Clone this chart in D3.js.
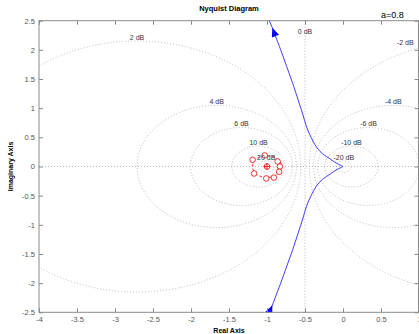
<!DOCTYPE html>
<html>
<head>
<meta charset="utf-8">
<script src="https://cdn.jsdelivr.net/npm/d3@7"></script>
<style>
  body { margin: 0; background: #fff; }
  text { font-family: "Liberation Sans", Arial, sans-serif; }
</style>
</head>
<body>
<div id="chart"></div>
<script>
// values
const xTicks = [-4, -3.5, -3, -2.5, -2, -1.5, -1, -0.5, 0, 0.5, 1];
const yTicks = [-2.5, -2, -1.5, -1, -0.5, 0, 0.5, 1, 1.5, 2, 2.5];
const gridDb = [-20, -10, -6, -4, -2, 2, 4, 6, 10, 20];

// upper branch (from top down to the origin)
const upperRe = [-1.00, -0.97, -0.93, -0.89, -0.82, -0.74, -0.66, -0.59, -0.53, -0.48, -0.42, -0.35, -0.27, -0.17, -0.09, -0.03, 0];
const upperIm = [2.62, 2.50, 2.38, 2.24, 2.00, 1.71, 1.42, 1.14, 0.90, 0.68, 0.50, 0.335, 0.22, 0.13, 0.06, 0.02, 0];
// lower branch (from the origin down)
const lowerRe = [0, -0.03, -0.09, -0.17, -0.27, -0.35, -0.42, -0.48, -0.53, -0.59, -0.66, -0.74, -0.82, -0.89, -0.93, -0.97, -1.00];
const lowerIm = [0, -0.02, -0.06, -0.13, -0.22, -0.335, -0.50, -0.68, -0.90, -1.14, -1.42, -1.71, -2.00, -2.24, -2.38, -2.50, -2.62];
const upperArrowAt = 2;
const lowerArrowAt = 14;

// red ring of markers round -1
const ringRe = [-1.19, -1.03, -0.86, -0.83, -0.84, -0.91, -1.01, -1.17];
const ringIm = [0.115, 0.19, 0.086, 0, -0.09, -0.19, -0.205, -0.12];
const ringCenter = [-1, 0];
const ringRadius = 0.19;

const titleText = "Nyquist Diagram";
const noteText = "a=0.8";
const xLabel = "Real Axis";
const yLabel = "Imaginary Axis";

const W = 419, H = 334;
const mLeft = 39, mRight = 419, mTop = 20.7, mBottom = 312.3;

const x = d3.scaleLinear().domain([-4, 1]).range([mLeft, mRight]);
const y = d3.scaleLinear().domain([-2.5, 2.5]).range([mBottom, mTop]);

const svg = d3.select("#chart").append("svg")
  .attr("width", W).attr("height", H);

svg.append("defs").append("clipPath").attr("id", "plot")
  .append("rect")
  .attr("x", mLeft).attr("y", mTop)
  .attr("width", mRight - mLeft).attr("height", mBottom - mTop);

const plot = svg.append("g").attr("clip-path", "url(#plot)");

// grid: M circles
const gridColor = "#b8b8b8";
const circles = gridDb.map(function(d) {
  const m = Math.pow(10, d / 20);
  const c = -m * m / (m * m - 1);
  const r = Math.abs(m / (m * m - 1));
  return { db: d, c: c, r: r };
});

plot.selectAll(".mcircle")
  .data(circles)
  .enter().append("ellipse")
  .attr("class", "mcircle")
  .attr("cx", d => x(d.c))
  .attr("cy", y(0))
  .attr("rx", d => x(d.c + d.r) - x(d.c))
  .attr("ry", d => y(0) - y(d.r))
  .attr("fill", "none")
  .attr("stroke", gridColor)
  .attr("stroke-width", 1)
  .attr("stroke-dasharray", "1 2");

plot.append("line")
  .attr("x1", mLeft).attr("x2", mRight)
  .attr("y1", y(0)).attr("y2", y(0))
  .attr("stroke", gridColor).attr("stroke-dasharray", "1 2");

plot.append("line")
  .attr("x1", x(-0.5)).attr("x2", x(-0.5))
  .attr("y1", mTop).attr("y2", mBottom)
  .attr("stroke", gridColor).attr("stroke-dasharray", "1 2");

// dB labels at the tops of the circles
const xMax = x.domain()[1];
const labels = circles.map(function(d) {
  let lx = d.c, ly = d.r;
  if (d.c > xMax - 0.15) {
    lx = xMax - 0.18;
    ly = Math.sqrt(d.r * d.r - (lx - d.c) * (lx - d.c)) + 0.1;
  }
  return { text: d.db + " dB", x: lx, y: ly };
});
labels.push({ text: "0 dB", x: -0.5, y: 2.25 });

svg.selectAll(".dblabel")
  .data(labels)
  .enter().append("text")
  .attr("class", "dblabel")
  .attr("x", d => x(d.x))
  .attr("y", d => y(d.y) - 1)
  .attr("text-anchor", "middle")
  .attr("font-size", "7px")
  .attr("fill", "#333")
  .text(d => d.text);

// red ring
plot.append("ellipse")
  .attr("cx", x(ringCenter[0]))
  .attr("cy", y(ringCenter[1]))
  .attr("rx", x(ringCenter[0] + ringRadius) - x(ringCenter[0]))
  .attr("ry", y(0) - y(ringRadius))
  .attr("fill", "none")
  .attr("stroke", "#e00")
  .attr("stroke-width", 0.8)
  .attr("stroke-dasharray", "3 2");

plot.selectAll(".ringmark")
  .data(ringRe.map((r, i) => [r, ringIm[i]]))
  .enter().append("circle")
  .attr("class", "ringmark")
  .attr("cx", d => x(d[0]))
  .attr("cy", d => y(d[1]))
  .attr("r", 2.8)
  .attr("fill", "#fff")
  .attr("stroke", "#e00")
  .attr("stroke-width", 0.8);

const cx0 = x(ringCenter[0]), cy0 = y(ringCenter[1]);
plot.append("circle")
  .attr("cx", cx0).attr("cy", cy0).attr("r", 2.8)
  .attr("fill", "none").attr("stroke", "#e00").attr("stroke-width", 0.8);
plot.append("path")
  .attr("d", `M${cx0 - 3.5},${cy0}H${cx0 + 3.5}M${cx0},${cy0 - 3.5}V${cy0 + 3.5}`)
  .attr("stroke", "#e00").attr("stroke-width", 0.8);

// nyquist curve
const line = d3.line().x(d => x(d[0])).y(d => y(d[1])).curve(d3.curveCatmullRom.alpha(0.5));
const upper = upperRe.map((r, i) => [r, upperIm[i]]);
const lower = lowerRe.map((r, i) => [r, lowerIm[i]]);

plot.selectAll(".branch")
  .data([upper, lower])
  .enter().append("path")
  .attr("class", "branch")
  .attr("d", line)
  .attr("fill", "none")
  .attr("stroke", "#2a2aff")
  .attr("stroke-width", 0.9);

function arrow(pts, i) {
  const px = x(pts[i][0]), py = y(pts[i][1]);
  const qx = x(pts[i + 1][0]), qy = y(pts[i + 1][1]);
  const len = Math.hypot(qx - px, qy - py);
  const ux = (qx - px) / len, uy = (qy - py) / len;
  const L = 9, Wd = 3.8;
  const bx = px + ux * L, by = py + uy * L;
  return `M${px},${py}L${bx - uy * Wd},${by + ux * Wd}L${bx + uy * Wd},${by - ux * Wd}Z`;
}

plot.append("path").attr("d", arrow(upper, upperArrowAt)).attr("fill", "#0000ff");
plot.append("path").attr("d", arrow(lower, lowerArrowAt)).attr("fill", "#0000ff");

// axes box and ticks
const axisColor = "#8a8a8a";
const fmt = d => String(d);

function styleAxis(g) {
  g.select(".domain").remove();
  g.selectAll(".tick line").attr("stroke", axisColor);
  g.selectAll(".tick text").attr("fill", "#555").attr("font-size", "7.5px")
    .attr("font-family", "Liberation Sans, Arial, sans-serif");
}

svg.append("g").attr("transform", `translate(0,${mBottom})`)
  .call(d3.axisBottom(x).tickValues(xTicks).tickFormat(fmt).tickSize(-4).tickPadding(4.5))
  .call(styleAxis);
svg.append("g").attr("transform", `translate(0,${mTop})`)
  .call(d3.axisTop(x).tickValues(xTicks).tickFormat("").tickSize(-4))
  .call(styleAxis);
svg.append("g").attr("transform", `translate(${mLeft},0)`)
  .call(d3.axisLeft(y).tickValues(yTicks).tickFormat(fmt).tickSize(-4).tickPadding(4))
  .call(styleAxis);
svg.append("g").attr("transform", `translate(${mRight - 0.5},0)`)
  .call(d3.axisRight(y).tickValues(yTicks).tickFormat("").tickSize(-4))
  .call(styleAxis);

svg.append("rect")
  .attr("x", mLeft).attr("y", mTop)
  .attr("width", mRight - mLeft - 0.5).attr("height", mBottom - mTop)
  .attr("fill", "none").attr("stroke", axisColor).attr("stroke-width", 1);

// texts
svg.append("text")
  .attr("x", (mLeft + mRight) / 2).attr("y", 11)
  .attr("text-anchor", "middle")
  .attr("font-size", "7.5px").attr("font-weight", "bold")
  .text(titleText);

svg.append("text")
  .attr("x", 381).attr("y", 17.5)
  .attr("font-size", "9px")
  .text(noteText);

svg.append("text")
  .attr("x", (mLeft + mRight) / 2).attr("y", 333)
  .attr("text-anchor", "middle")
  .attr("font-size", "7px").attr("font-weight", "bold")
  .text(xLabel);

svg.append("text")
  .attr("transform", `translate(13,${(mTop + mBottom) / 2}) rotate(-90)`)
  .attr("text-anchor", "middle")
  .attr("font-size", "7px").attr("font-weight", "bold")
  .text(yLabel);
</script>
</body>
</html>
